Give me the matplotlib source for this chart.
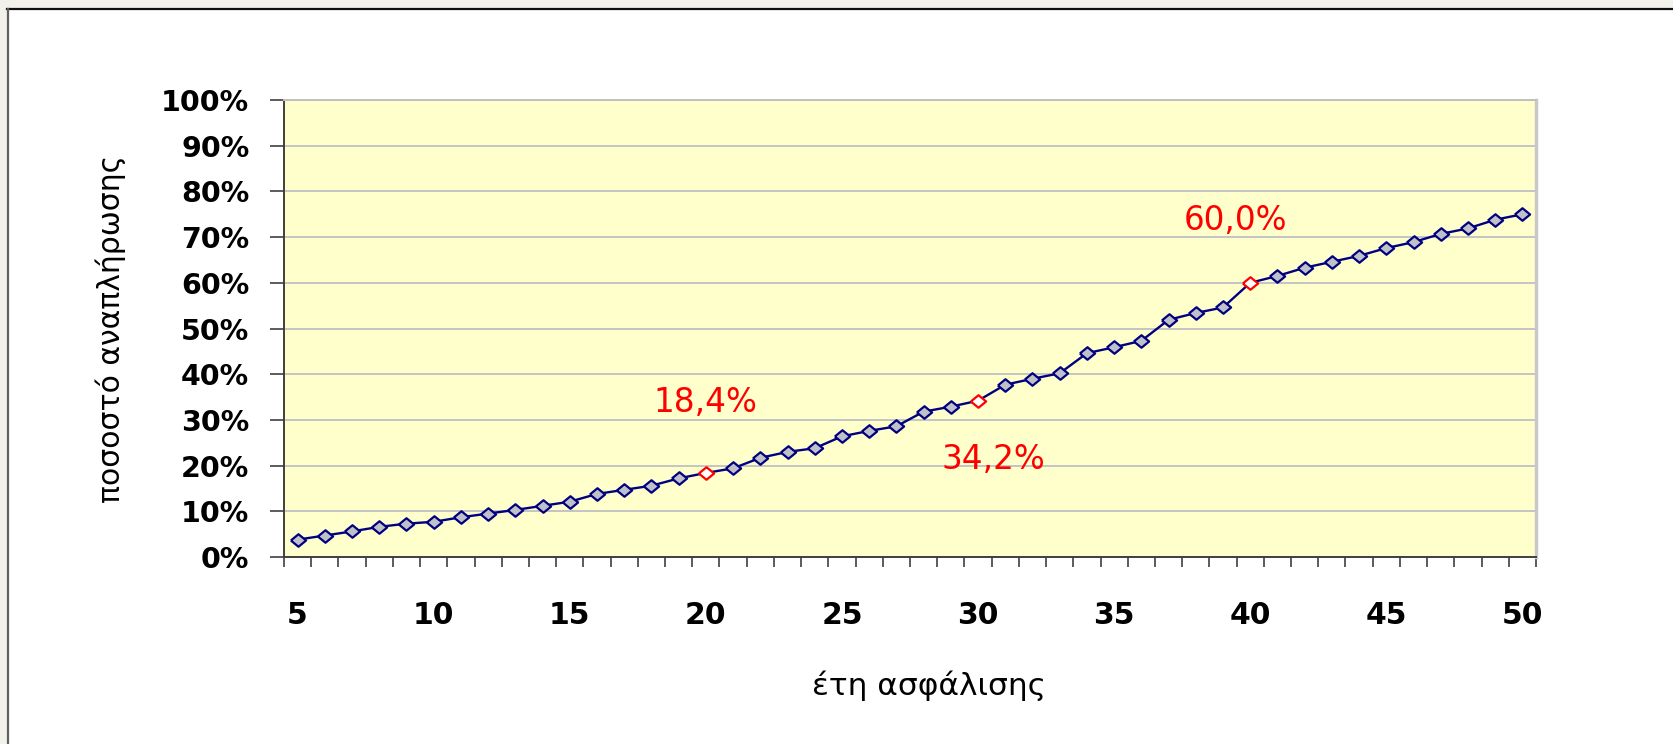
import matplotlib
matplotlib.use("Agg")
import matplotlib.pyplot as plt
from matplotlib.patches import Rectangle
from matplotlib.lines import Line2D
import numpy as np

# ---- data ----
years = list(range(5, 51))
rate = [3.8, 4.7, 5.6, 6.6, 7.3, 7.7, 8.7, 9.5, 10.3, 11.2,
        12.1, 13.8, 14.7, 15.6, 17.2, 18.4, 19.4, 21.7, 23.0, 23.8,
        26.4, 27.6, 28.6, 31.8, 32.9, 34.2, 37.7, 39.0, 40.2, 44.6,
        45.9, 47.3, 51.9, 53.4, 54.6, 60.0, 61.5, 63.3, 64.6, 65.9,
        67.6, 68.9, 70.7, 71.9, 73.8, 75.0]
highlight_years = [20, 30, 40]
y_ticks = [0, 10, 20, 30, 40, 50, 60, 70, 80, 90, 100]
x_label_years = [5, 10, 15, 20, 25, 30, 35, 40, 45, 50]
x_title = "έτη ασφάλισης"
y_title = "ποσοστό αναπλήρωσης"

plt.rcParams['font.family'] = ['DejaVu Sans']

fig = plt.figure(figsize=(16.74, 7.44), dpi=100)
fig.patch.set_facecolor("white")
W, H = 1674, 744

# outer frame strips (top and left)
fig.patches.append(Rectangle((0, 1 - 8 / H), 1, 8 / H, transform=fig.transFigure,
                             facecolor="#f3f2ea", edgecolor="none", zorder=0))
fig.patches.append(Rectangle((0, 0), 7 / W, 1, transform=fig.transFigure,
                             facecolor="#f3f2ea", edgecolor="none", zorder=0))
fig.lines.append(Line2D([7 / W, 1], [1 - 8.5 / H, 1 - 8.5 / H], transform=fig.transFigure,
                        color="#101010", lw=1.6))
fig.lines.append(Line2D([7.8 / W, 7.8 / W], [0, 1 - 8.5 / H], transform=fig.transFigure,
                        color="#606060", lw=1.6))

left, right, top, bottom = 284 / W, 1536 / W, 100 / H, 557 / H
ax = fig.add_axes([left, 1 - bottom, right - left, bottom - top])
ax.set_facecolor("#ffffcc")

# diamond marker slightly wider than tall
diamond = [(-1, 0), (0, 0.82), (1, 0), (0, -0.82), (-1, 0)]

normal_x = [x for x in years if x not in highlight_years]
normal_y = [r for x, r in zip(years, rate) if x not in highlight_years]
hi_y = [rate[years.index(x)] for x in highlight_years]

ax.plot(years, rate, color="#000080", lw=1.7, zorder=3)
ax.plot(normal_x, normal_y, linestyle="none", marker=diamond, markersize=11,
        markerfacecolor="#c0c0c8", markeredgecolor="#000080", markeredgewidth=1.6, zorder=4)
ax.plot(highlight_years, hi_y, linestyle="none", marker=diamond, markersize=11,
        markerfacecolor="white", markeredgecolor="#ff0000", markeredgewidth=1.6, zorder=4)

offsets = [(0, 51), (11, -42.5), (-10.5, 44.5)]
for x, y, off in zip(highlight_years, hi_y, offsets):
    ax.annotate(f"{y:.1f}%".replace(".", ","), (x, y), xytext=off,
                textcoords="offset points", ha="center", va="center",
                color="#ff0000", fontsize=23.5)

ax.set_xlim(years[0] - 0.5, years[-1] + 0.5)
ax.set_ylim(0, 100)

# y axis
ax.set_yticks(y_ticks)
ax.set_yticklabels([f"{t}%" for t in y_ticks], fontsize=20.5, fontweight="bold")
ax.tick_params(axis="y", length=10, width=1.2, color="#404040", pad=15)
ax.grid(axis="y", color="#c4c4c4", lw=1.4, zorder=1)
ax.set_axisbelow(True)

# x axis: tick marks at category boundaries, labels at category centres
ax.set_xticks(np.arange(years[0] - 0.5, years[-1] + 1.0, 1.0))
ax.set_xticklabels([])
ax.tick_params(axis="x", which="major", length=7.5, width=1.2, color="#404040")
ax.set_xticks(x_label_years, minor=True)
ax.set_xticklabels([str(v) for v in x_label_years], minor=True, fontsize=21.5, fontweight="bold")
ax.tick_params(axis="x", which="minor", length=0, pad=32)

for s in ["left", "bottom"]:
    ax.spines[s].set_color("#404040")
    ax.spines[s].set_linewidth(1.4)
ax.spines["top"].set_color("#c0c0c0")
ax.spines["top"].set_linewidth(1.4)
ax.spines["right"].set_color("#c8c8c8")
ax.spines["right"].set_linewidth(2.5)

ax.set_xlabel(x_title, fontsize=22.5)
ax.xaxis.set_label_coords((929 - 284) / 1252, (557 - 686) / 457)
ax.xaxis.label.set_verticalalignment("center")
ax.set_ylabel(y_title, fontsize=21.5)
ax.yaxis.set_label_coords((111 - 284) / 1252, 0.5)
ax.yaxis.label.set_verticalalignment("center")

fig.savefig("out.png", dpi=100)
